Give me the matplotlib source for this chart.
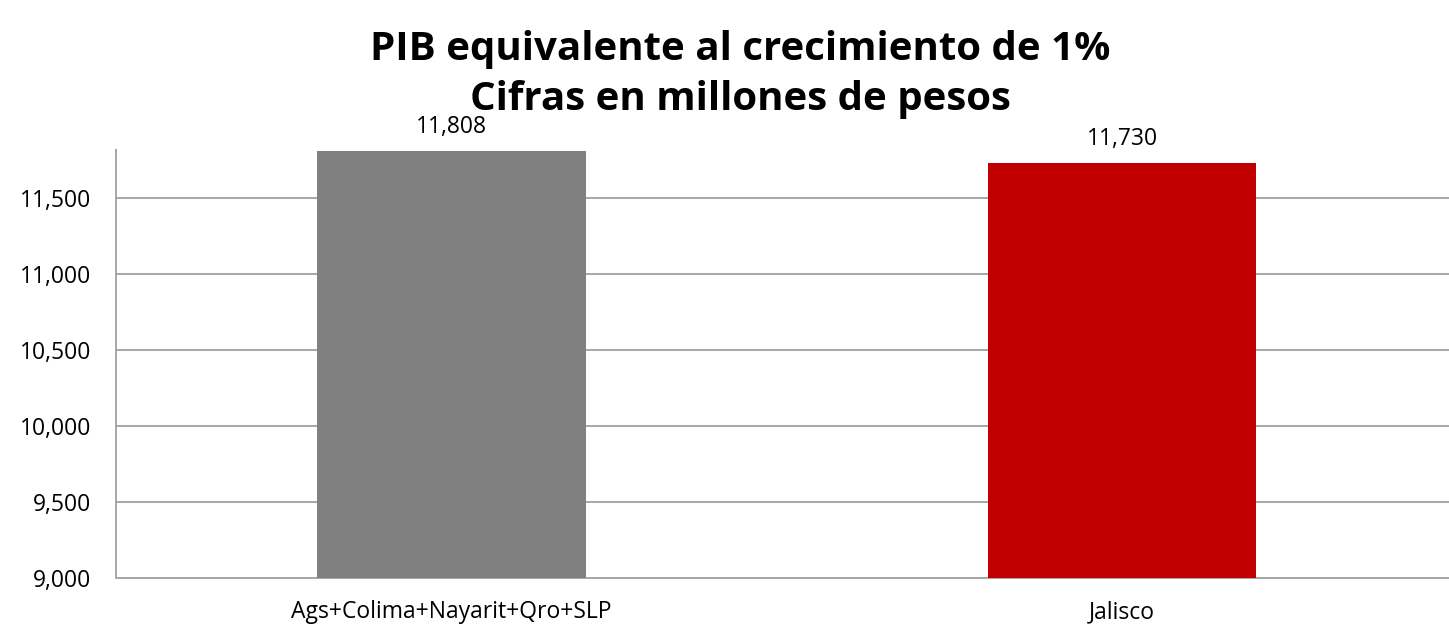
import matplotlib.pyplot as plt

categories = ["Ags+Colima+Nayarit+Qro+SLP", "Jalisco"]
values = [11808, 11730]
colors = ["#808080", "#c00000"]
yticks = [9000, 9500, 10000, 10500, 11000, 11500]
title_lines = ["PIB equivalente al crecimiento de 1%", "Cifras en millones de pesos"]

plt.rcParams['font.family'] = ['Open Sans', 'DejaVu Sans']

W, H = 1449, 624
fig = plt.figure(figsize=(W / 100, H / 100), dpi=100)
# plot area runs a little past the right edge, like the original
ax = fig.add_axes([0.080, 0.074, 0.926, 0.686])

x = range(len(categories))
bars = ax.bar(x, values, width=0.40, color=colors, zorder=3)
ax.set_xlim(-0.5, len(categories) - 0.5)
ax.set_ylim(9000, 11818)
ax.set_yticks(yticks)
ax.set_yticklabels([f"{v:,}" for v in yticks], fontsize=16.5)
ax.set_xticks(list(x))
ax.set_xticklabels(categories, fontsize=16.5)
ax.tick_params(axis='both', length=0)
ax.tick_params(axis='y', pad=18)
ax.tick_params(axis='x', pad=16)

ax.grid(axis='y', color='#a6a6a6', linewidth=1.4, zorder=0)
for s in ['top', 'right']:
    ax.spines[s].set_visible(False)
for s in ['left', 'bottom']:
    ax.spines[s].set_color('#a6a6a6')
    ax.spines[s].set_linewidth(1.4)

for b, v in zip(bars, values):
    ax.annotate(f"{v:,}", (b.get_x() + b.get_width() / 2, v),
                xytext=(0, 8.5), textcoords='offset points',
                ha='center', va='bottom', fontsize=16.5)

# title, two lines placed by baseline
for line, ypx in zip(title_lines, [60, 110]):
    fig.text(740 / W, 1 - ypx / H, line, ha='center', va='baseline',
             fontsize=29, fontweight='bold')

fig.savefig('out.png', dpi=100)
